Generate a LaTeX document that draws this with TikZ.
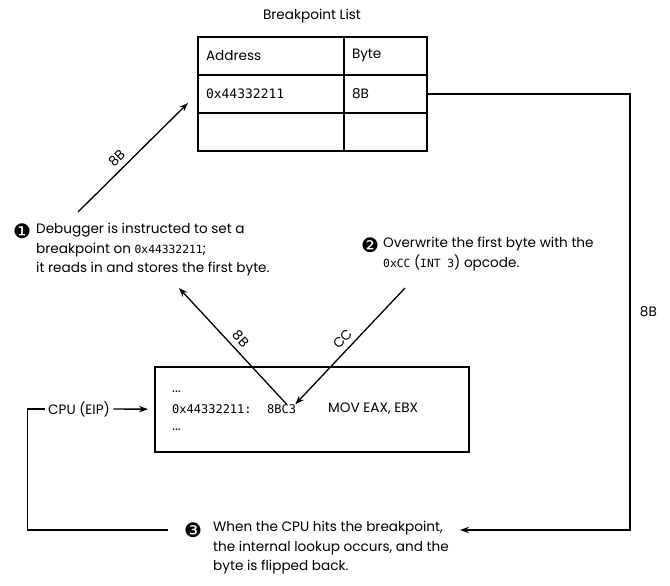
\documentclass[tikz,border=0pt]{standalone}
\usepackage{fontspec}
\setmainfont{Poppins}
\setmonofont{DejaVu Sans Mono}
\newfontfamily\dingfont{DejaVu Sans}
\usetikzlibrary{positioning,arrows.meta}
\newcommand\notefont{\fontsize{13.6}{19.5}\selectfont}
\newcommand\codefont{\fontsize{12}{18}\selectfont}
\newcommand\cd[1]{{\ttfamily\fontsize{11.3}{19.5}\selectfont #1}}

\begin{document}
\begin{tikzpicture}[x=1pt, y=-1pt, font=\notefont,
    >={Stealth[length=9pt,width=6.5pt]},
    wire/.style={line width=1.3pt},
    cell/.style={draw, wire, outer sep=0pt, minimum height=38pt,
      inner xsep=8pt, align=left},
    note/.style={align=left, inner sep=0pt},
    num/.style={inner sep=0pt, font=\dingfont\fontsize{20}{20}\selectfont},
    code/.style={inner sep=0pt, font=\ttfamily\codefont},
    tag/.style={sloped, above=4pt, inner sep=1pt}]
  \useasboundingbox (0,0) rectangle (670,586);
  % breakpoint table
  \node (title) at (312,16) {Breakpoint List};
  \node[cell, text width=130pt, anchor=north west] (addr) at (198,37) {Address};
  \node[cell, text width=67pt, right=0pt of addr] (byte) {Byte};
  \node[cell, text width=130pt, below=0pt of addr] (addr1)
    {\ttfamily\fontsize{13}{18}\selectfont 0x44332211};
  \node[cell, text width=67pt, below=0pt of byte] (byte1) {8B};
  \node[cell, text width=130pt, below=0pt of addr1] (addr2) {};
  \node[cell, text width=67pt, below=0pt of byte1] (byte2) {};
  % notes
  \node[num] (n1) at (22,231) {❶};
  \node[note, anchor=west] (t1) at (36,250) {Debugger is instructed to set a\\
    breakpoint on \cd{0x44332211};\\it reads in and stores the first byte.};
  \node[num] (n2) at (370,245) {❷};
  \node[note, anchor=west] (t2) at (383,254) {Overwrite the first byte with the\\
    \cd{0xCC} (\cd{INT 3}) opcode.};
  \node[num] (n3) at (193,530) {❸};
  \node[note, anchor=west] (t3) at (213,548) {When the CPU hits the breakpoint,\\
    the internal lookup occurs, and the\\byte is flipped back.};
  % memory
  \node[draw, wire, outer sep=0pt, minimum width=314pt, minimum height=85pt,
    anchor=north west] (mem) at (155,367) {};
  \node[inner sep=0pt, anchor=west] (dots1) at (172,392) {...};
  \node[code, anchor=west] (loc) at (172,409) {0x44332211:};
  \node[code, anchor=west] (op) at (267,409) {8BC3};
  \node[inner sep=0pt, anchor=west] (asm) at (328,409) {MOV EAX, EBX};
  \node[inner sep=0pt, anchor=west] (dots2) at (172,430) {...};
  \node (cpu) at (79,409) {CPU (EIP)};
  % connectors
  \coordinate (s1) at (78,212);
  \coordinate (bp) at (188,103);
  \coordinate (c1) at (179,288);
  \coordinate (c2) at (405,288);
  \coordinate (turn) at (630,530);
  \draw[->, wire] (s1) -- node[tag, pos=0.42] {8B} (bp);
  \draw[->, wire] ([xshift=5pt]op.north) -- node[tag] {8B} (c1);
  \draw[->, wire] (c2) -- node[tag] {CC} ([xshift=-1pt]op.north east);
  \draw[->, wire] (byte1.east) -| node[pos=0.75, right=6pt] {8B} (turn)
    -- ([xshift=11pt]t3.east |- turn);
  \draw[->, wire, shorten >=7pt] (cpu) -- (mem);
  \draw[wire] ([xshift=-16pt]n3.west) -| ([xshift=-17pt]cpu.west) -- (cpu.west);
\end{tikzpicture}
\end{document}
